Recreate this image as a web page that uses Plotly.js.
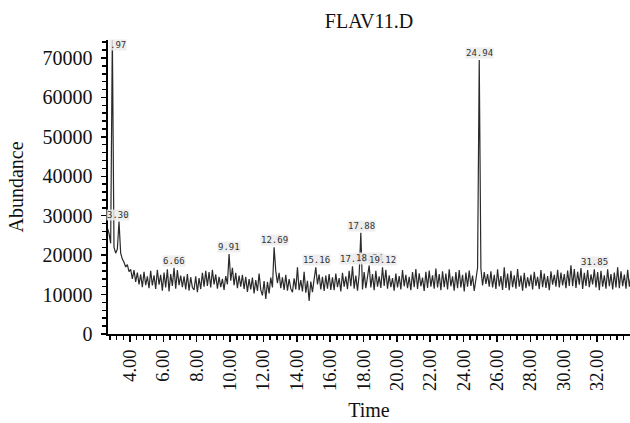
<!DOCTYPE html>
<html>
<head>
<meta charset="utf-8">
<script src="https://cdn.plot.ly/plotly-3.0.1.min.js"></script>
<style>html,body{margin:0;padding:0;background:#fff;}#chart{width:630px;height:423px;}</style>
</head>
<body>
<div id="chart"></div>
<script>
// Chromatogram sampled every 0.1 min starting at 2.64 min
const timeStart = 2.64;
const timeStep = 0.1;
const abundance = [
27000,25500,23000,75500,22000,20500,21500,28500,20500,19000,
18200,17000,17600,15800,16400,
14000,16200,13200,15600,12600,15100,11900,15800,12400,14600,
11600,16000,12300,14900,11400,16300,12500,15000,11000,15600,
11800,16400,10800,15200,12200,
16800,11500,16200,12400,14800,11900,14600,11300,15200,11000,
14400,11800,11200,14600,10600,14200,11400,15500,12000,16000,
12200,15700,11800,16300,12600,15100,11500,14500,11900,14000,
11200,14700,12600,20300,13500,16800,12400,15500,11600,14800,
12000,15000,11400,14500,10700,13900,11300,14300,10300,13700,
10900,15300,11200,9800,13400,8900,13200,10300,14300,11800,
22000,16000,12900,15500,11600,14400,11200,15000,11000,13900,
11500,10600,14100,11300,16900,11100,13700,10800,15800,10500,
13500,8400,13300,10600,13900,16900,12600,15100,11300,14500,
10900,14800,11500,15200,11200,14400,11100,15300,11900,14200,
10800,15500,12000,14600,11400,16000,12100,17200,11500,14800,
11000,15100,25700,11300,15700,11600,14500,17400,11800,15200,
11100,16000,12000,14600,11700,16900,12200,16300,11500,14900,
11900,14200,11000,15300,11800,14700,11300,16200,12100,15000,
11600,14500,11100,15700,11900,16500,11400,15400,12100,14300,
10900,15800,11700,16100,12000,14900,11500,16600,11800,15200,
11100,15900,11900,15300,11300,16400,12100,14600,11000,15700,
11600,16200,11800,15000,10800,15600,12000,16100,12200,14800,
10900,14100,16800,69500,16600,12300,15700,12700,15200,12000,
15900,11800,15000,11400,16400,12100,14700,11200,16900,11700,
15300,11100,16000,11900,14900,11500,16500,12000,14800,11000,
15500,11600,14400,12100,15100,11300,15800,12200,14500,11400,
16200,11900,15300,11700,14700,11100,15900,12500,15000,12000,
16300,11800,15600,12300,15200,11600,16100,12200,17400,12100,
16500,11700,15800,12500,16700,11400,15500,12200,16200,11900,
15100,12600,16400,11800,15700,11100,16000,12000,14900,11500,
16400,12100,15200,11300,15600,11800,16900,11600,15900,12100,
15100,11500,16300,12000,15000
];

// Peak labels
const peakTimes  = [2.97, 3.30, 6.66, 9.91, 12.69, 15.16, 17.38, 17.88, 18.34, 19.12, 24.94, 31.85];
const peakLabels = ['.97', '3.30', '6.66', '9.91', '12.69', '15.16', '17.38', '17.88', '18.34', '19.12', '24.94', '31.85'];
const peakHeights = [74600, 28500, 16800, 20300, 22000, 16900, 17200, 25700, 17400, 16900, 69500, 16400];

const serif = 'Liberation Serif, Times New Roman, serif';

const trace = {
  type: 'scatter',
  mode: 'lines',
  x0: timeStart,
  dx: timeStep,
  y: abundance,
  line: {color: '#2a2a2a', width: 1.2},
  hoverinfo: 'skip',
  cliponaxis: true
};

const annotations = peakTimes.map((t, i) => {
  const a = {
    x: t, y: peakHeights[i], xref: 'x', yref: 'y',
    text: peakLabels[i], showarrow: false,
    yanchor: 'bottom', xanchor: 'center', yshift: 1,
    font: {family: 'DejaVu Sans Mono, monospace', size: 9, color: '#333'},
    bgcolor: 'rgba(235,235,235,0.85)', borderpad: 0
  };
  if (i === 0) { a.yref = 'paper'; a.y = 1; a.yanchor = 'top'; a.xanchor = 'left'; a.xshift = -4; }
  return a;
});

const layout = {
  width: 630, height: 423,
  margin: {l: 108, r: 0, t: 40, b: 89, pad: 0},
  paper_bgcolor: '#fff', plot_bgcolor: '#fff',
  showlegend: false,
  title: {text: 'FLAV11.D', x: 0.5, xref: 'paper', y: 0.95, yref: 'container', yanchor: 'middle',
          font: {family: serif, size: 20, color: '#111'}},
  xaxis: {
    range: [2.68, 33.98], tickmode: 'linear', tick0: 0, dtick: 2, tickformat: '.2f',
    tickangle: -90, ticks: 'outside', ticklen: 6, tickwidth: 1.5, tickcolor: '#000',
    showline: true, linewidth: 2, linecolor: '#000', showgrid: false, zeroline: false,
    minor: {ticks: 'outside', tick0: 0, dtick: 0.4, ticklen: 4, tickwidth: 1.5, tickcolor: '#000', showgrid: false},
    tickfont: {family: serif, size: 18.5, color: '#111'},
    title: {text: 'Time', font: {family: serif, size: 20, color: '#111'}, standoff: 13},
    automargin: false
  },
  yaxis: {
    range: [0, 74560], tickmode: 'linear', tick0: 0, dtick: 10000, tickformat: 'd',
    ticks: 'outside', ticklen: 5, tickwidth: 1.5, tickcolor: '#000',
    showline: true, linewidth: 2.5, linecolor: '#000', showgrid: false, zeroline: false,
    minor: {ticks: 'outside', tick0: 0, dtick: 2000, ticklen: 4, tickwidth: 1.5, tickcolor: '#000', showgrid: false},
    tickfont: {family: serif, size: 20, color: '#111'},
    ticklabelstandoff: 4,
    title: {text: 'Abundance', font: {family: serif, size: 20, color: '#111'}, standoff: 14},
    automargin: false
  },
  annotations: annotations
};

Plotly.newPlot('chart', [trace], layout, {displayModeBar: false, staticPlot: true});
</script>
</body>
</html>
